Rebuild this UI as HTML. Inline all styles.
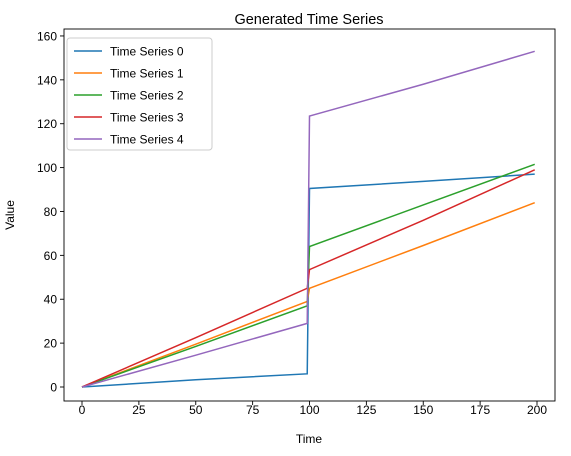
<!DOCTYPE html>
<html><head><meta charset="utf-8"><style>
body{margin:0;background:#fff;}
svg text{font-family:"Liberation Sans","DejaVu Sans",sans-serif;fill:#000;}
</style></head><body>
<svg id="chart" width="571" height="451" xmlns="http://www.w3.org/2000/svg">
<rect width="571" height="451" fill="#fff"/>
<text x="309" y="24" font-size="14.5" text-anchor="middle">Generated Time Series</text>
<g id="ticks"></g>
<g id="series"></g>
<rect x="64" y="29" width="491" height="372" fill="none" stroke="#000" stroke-width="0.9"/>
<text x="309" y="443" font-size="12" text-anchor="middle">Time</text>
<text x="14" y="215" font-size="12" text-anchor="middle" transform="rotate(-90 14 215)">Value</text>
<g id="legend"></g>
</svg>
<script>
const xs=[0,50,99,100,150,199];
const s0=[0,3.3,6,90.5,93.7,97];
const s1=[0,19.5,39,45,64.5,84];
const s2=[0,18.5,37,64,83,101.5];
const s3=[0,22.5,45,53.5,76,99];
const s4=[0,14.5,29,123.5,138,153];
const seriesNames=["Time Series 0","Time Series 1","Time Series 2","Time Series 3","Time Series 4"];
const colors=["#1f77b4","#ff7f0e","#2ca02c","#d62728","#9467bd"];
const xTicks=[0,25,50,75,100,125,150,175,200];
const yTicks=[0,20,40,60,80,100,120,140,160];
const X=v=>82+v*2.275, Y=v=>387-v*2.194;
const NS="http://www.w3.org/2000/svg";
function mk(t,a,p){const e=document.createElementNS(NS,t);for(const k in a)e.setAttribute(k,a[k]);p.appendChild(e);return e;}
const tk=document.getElementById('ticks');
xTicks.forEach(v=>{
 const l=mk('line',{x1:X(v),x2:X(v),y1:401,y2:405,stroke:'#000','stroke-width':0.9},tk);
 
 
 const t=mk('text',{x:X(v),y:414,'font-size':12,'text-anchor':'middle'},tk);t.textContent=v;
 
 
});
yTicks.forEach(v=>{
 const l=mk('line',{x1:60,x2:64,y1:Y(v),y2:Y(v),stroke:'#000','stroke-width':0.9},tk);
 
 
 const t=mk('text',{x:57,y:Y(v)+4.5,'font-size':12,'text-anchor':'end'},tk);t.textContent=v;
 
 
});
const sg=document.getElementById('series');
[s0,s1,s2,s3,s4].forEach((s,i)=>{
 const p=mk('polyline',{points:xs.map((x,j)=>X(x)+','+Y(s[j])).join(' '),fill:'none',stroke:colors[i],'stroke-width':1.5},sg);
 
 
});
const lg=document.getElementById('legend');
const box=mk('rect',{x:67,y:38,width:145,height:112,rx:3,fill:'#fff','fill-opacity':0.8,stroke:'#ccc'},lg);


seriesNames.forEach((n,i)=>{
 const y=51+i*22;
 const l=mk('line',{x1:74,x2:102,y1:y,y2:y,stroke:colors[i],'stroke-width':1.5},lg);
 
 
 const t=mk('text',{x:110,y:y+4.5,'font-size':12},lg);t.textContent=n;
 
 
});
</script>
</body></html>
